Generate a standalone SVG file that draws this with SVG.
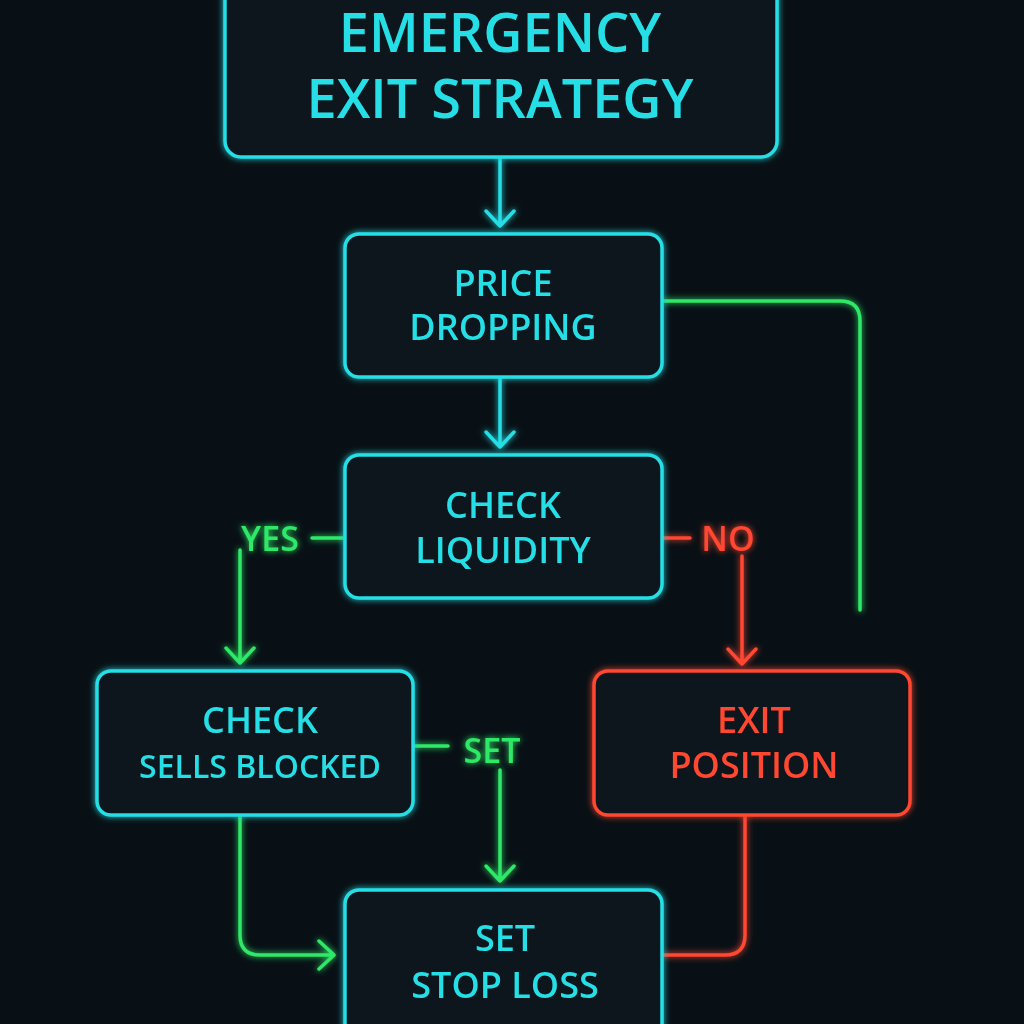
<svg xmlns="http://www.w3.org/2000/svg" width="1024" height="1024" viewBox="0 0 1024 1024">
<defs>
<filter id="glow" x="-20%" y="-20%" width="140%" height="140%">
<feGaussianBlur stdDeviation="3" result="b"/>
<feMerge><feMergeNode in="b"/><feMergeNode in="SourceGraphic"/></feMerge>
</filter>
</defs>
<style>
.c{stroke:#25dfe6;}
.g{stroke:#2fe868;}
.r{stroke:#ff4630;}
.box{fill:#0b161c;stroke-width:3.5;}
.ln{fill:none;stroke-width:3.5;stroke-linecap:round;stroke-linejoin:round;}
text{font-family:"Open Sans","Liberation Sans",Arial,sans-serif;text-anchor:middle;font-weight:600;}
.tc{fill:#25dfe6;}.tg{fill:#2fe868;}.tr{fill:#ff4630;}
</style>
<rect width="1024" height="1024" fill="#081015"/>
<g id="connectors" filter="url(#glow)">
<path class="ln c" d="M500 158V226M486 211L500 226L514 211"/>
<path class="ln c" d="M500 378V447M486 432L500 447L514 432"/>
<path class="ln g" d="M663 301H840Q860 301 860 321V610"/>
<path class="ln g" d="M345 538H312"/>
<path class="ln g" d="M240 550V663M226 648L240 663L254 648"/>
<path class="ln r" d="M663 538H690"/>
<path class="ln r" d="M742 556V664M728 649L742 664L756 649"/>
<path class="ln g" d="M414 746H448"/>
<path class="ln g" d="M500 770V881M486 866L500 881L514 866"/>
<path class="ln g" d="M240 816V935Q240 955 260 955H334M319 941L334 955L319 969"/>
<path class="ln r" d="M745 816V935Q745 955 725 955H663"/>
</g>
<g id="title" filter="url(#glow)">
<rect class="box c" x="225" y="-20" width="552" height="177" rx="16"/>
<text class="tc" x="500" y="52" font-size="54">EMERGENCY</text>
<text class="tc" x="500" y="118" font-size="54">EXIT STRATEGY</text>
</g>
<g id="price" filter="url(#glow)">
<rect class="box c" x="345" y="234" width="317" height="143" rx="14"/>
<text class="tc" x="503" y="296" font-size="36">PRICE</text>
<text class="tc" x="503" y="340" font-size="36">DROPPING</text>
</g>
<g id="liquidity" filter="url(#glow)">
<rect class="box c" x="345" y="455" width="317" height="143" rx="14"/>
<text class="tc" x="503" y="518" font-size="36">CHECK</text>
<text class="tc" x="503" y="563" font-size="36">LIQUIDITY</text>
</g>
<g id="labels" filter="url(#glow)">
<text class="tg" x="270" y="551" font-size="34">YES</text>
<text class="tr" x="728" y="551" font-size="34">NO</text>
<text class="tg" x="492" y="763" font-size="34">SET</text>
</g>
<g id="sells" filter="url(#glow)">
<rect class="box c" x="97" y="671" width="316" height="144" rx="14"/>
<text class="tc" x="260" y="733" font-size="36">CHECK</text>
<text class="tc" x="260" y="778" font-size="32">SELLS BLOCKED</text>
</g>
<g id="exit" filter="url(#glow)">
<rect class="box r" x="594" y="671" width="316" height="144" rx="14"/>
<text class="tr" x="754" y="733" font-size="36">EXIT</text>
<text class="tr" x="754" y="778" font-size="36">POSITION</text>
</g>
<g id="stoploss" filter="url(#glow)">
<rect class="box c" x="345" y="890" width="317" height="150" rx="14"/>
<text class="tc" x="505" y="951" font-size="36">SET</text>
<text class="tc" x="505" y="998" font-size="36">STOP LOSS</text>
</g>
</svg>
